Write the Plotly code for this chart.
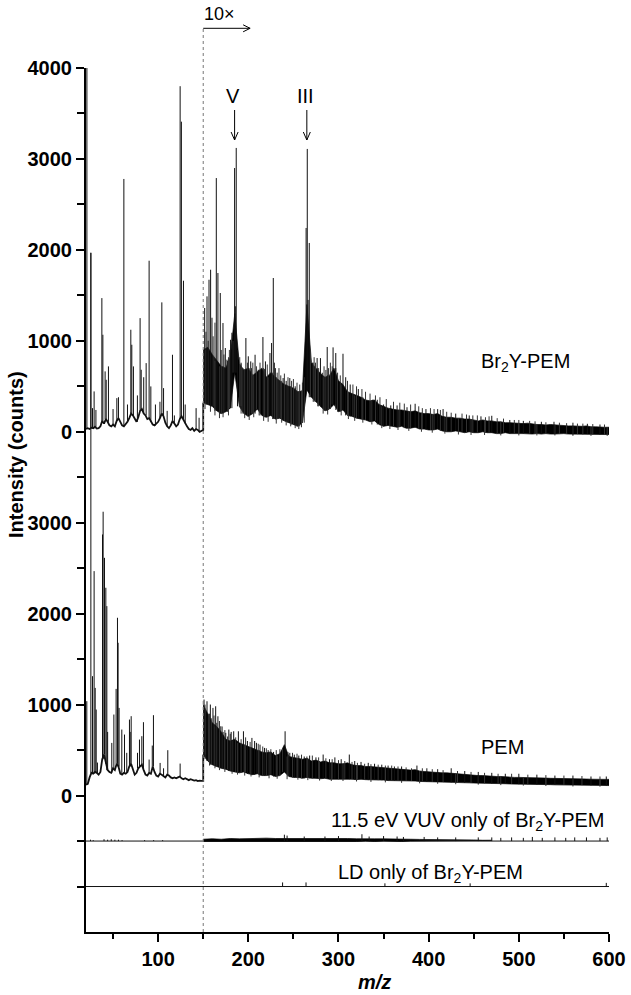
import numpy as np
import plotly.graph_objects as go

FONT = "Liberation Sans, Arial, Helvetica, sans-serif"

# ---------------- axis ----------------
XMIN, XMAX = 20, 600
YMIN, YMAX = -5500, 4000
x_major = [100, 200, 300, 400, 500, 600]
x_minor = [50, 150, 250, 350, 450, 550]
y_tickvals = [4000, 3000, 2000, 1000, 0, -1000, -2000, -3000, -4000]
y_ticktext = ["4000", "3000", "2000", "1000", "0", "3000", "2000", "1000", "0"]
y_minor = [3500, 2500, 1500, 500, -500, -1500, -2500, -3500, -4500, -5000]

# stacking offsets of the four spectra (counts)
off_br, off_pem, off_vuv, off_ld = 0, -4000, -4500, -5000

# ---------------- Br2Y-PEM ----------------
# m/z 20-150 (1x): baseline every 2 m/z
br_base_mz = list(range(20, 151, 2))
br_base_int = [30, 40, 30, 45, 40, 55, 35, 40, 60, 120,
               90, 140, 110, 70, 60, 80, 60, 120, 150, 110,
               70, 60, 80, 110, 150, 200, 180, 140, 110, 160,
               230, 250, 200, 180, 140, 150, 110, 80, 70, 90,
               110, 150, 200, 170, 100, 60, 40, 70, 120, 90,
               60, 80, 140, 170, 130, 90, 60, 30, 20, 40,
               10, 30, 20, 0, 10, 20]
br_pk_mz = [21.0, 25.4, 27.2, 29.0, 31.0, 37.6, 38.7, 41.2, 42.4, 44.9,
            50.0, 54.2, 56.0, 62.0, 66.0, 69.7, 70.8, 72.6, 77.0, 80.0,
            81.2, 84.0, 86.7, 90.0, 91.9, 97.0, 102.0, 104.1, 106.0, 110.0,
            115.9, 118.0, 124.4, 125.8, 128.1, 130.0, 142.1, 145.4]
br_pk_int = [4400, 1966, 260, 444, 240, 1470, 1067, 664, 572, 719,
             250, 370, 380, 2780, 300, 1122, 957, 719, 400, 1250,
             682, 600, 755, 1881, 499, 300, 330, 1423, 480, 230,
             847, 180, 3800, 3410, 1661, 300, 260, 154]
# m/z 150-600 (10x): noise envelope every 5 m/z
env_mz = list(range(150, 601, 5))
br_env_lo = [320, 300, 280, 230, 200, 220, 260, 650, 280, 200,
             170, 200, 250, 180, 160, 180, 140, 150, 120, 100,
             80, 60, 100, 460, 380, 330, 280, 230, 250, 300,
             220, 240, 180, 170, 150, 140, 130, 110, 120, 80,
             60, 70, 60, 50, 60, 40, 40, 50, 30, 30,
             20, 20, 30, 10, 0, 0, 10, 0, -10, 0,
             -10, -10, 0, -10, -10, -20, -20, -10, -20, -20,
             -20, -20, -20, -25, -20, -25, -20, -25, -25, -25,
             -20, -25, -30, -25, -30, -25, -30, -30, -30, -30,
             -30]
br_env_hi = [900, 930, 850, 780, 720, 700, 820, 1300, 750, 680,
             700, 620, 660, 700, 600, 650, 600, 560, 520, 500,
             480, 440, 450, 1400, 760, 700, 640, 600, 620, 700,
             560, 520, 440, 420, 400, 380, 350, 340, 350, 300,
             280, 260, 250, 240, 240, 230, 220, 230, 210, 200,
             200, 190, 200, 170, 160, 160, 150, 150, 140, 140,
             130, 120, 130, 120, 120, 110, 110, 100, 100, 95,
             90, 90, 95, 85, 80, 80, 75, 80, 75, 70,
             70, 65, 65, 60, 60, 65, 55, 55, 50, 50,
             50]
br_pk10_mz = [151.6, 154.2, 156.4, 158.2, 159.7, 164.5, 166.3, 168.9, 171.9, 174.5,
              176.3, 180.3, 181.8, 184.8, 185.6, 186.6, 188.0, 197.3, 200.0, 202.7,
              207.5, 211.0, 216.2, 219.0, 224.0, 225.8, 227.7, 230.0, 238.6, 242.0,
              246.0, 252.0, 264.1, 265.4, 266.3, 267.6, 271.0, 276.3, 280.0, 282.0,
              287.5, 294.0, 297.0, 305.0, 308.0, 313.0, 322.0, 338.0, 343.0, 350.0,
              358.0, 365.0, 376.0, 385.0, 397.0, 410.0, 416.0, 430.0, 445.0, 458.0,
              470.0, 490.0, 505.0, 525.0, 539.0, 560.0, 576.0, 590.0]
br_pk10_int = [1361, 1489, 1672, 1782, 1254, 2790, 1746, 1526, 1196, 921,
               793, 1012, 1089, 2900, 1380, 3121, 900, 1031, 830, 774,
               847, 682, 1042, 774, 866, 976, 1691, 700, 591, 560,
               591, 500, 2241, 3110, 1450, 2076, 760, 811, 810, 649,
               932, 928, 866, 858, 600, 520, 470, 352, 352, 300,
               290, 290, 270, 308, 250, 249, 250, 200, 180, 170,
               176, 130, 120, 110, 110, 100, 88, 80]
# smaller noise spikes above the 10x band
br_ns_mz = [153, 155.5, 161, 163, 170, 173, 177, 179, 183, 190.5,
            192, 194, 199, 203.5, 205, 209, 213, 218, 221, 229,
            232, 234, 236, 240, 244, 248, 250, 254, 257, 260,
            262, 269, 273, 274.5, 278, 284, 286, 289, 291, 293,
            299, 302, 310, 316, 320, 326, 330, 335, 341, 346,
            353, 361, 368, 373, 380, 389, 393, 402, 406, 413,
            420, 425, 437, 442, 449, 454, 463, 467, 476, 483,
            495, 500, 512, 518, 530, 545, 553, 565, 571, 582, 595]
br_ns_int = [1100, 1000, 1050, 1200, 900, 850, 780, 900, 1000, 820,
             760, 700, 760, 700, 760, 720, 760, 690, 740, 760,
             650, 700, 620, 640, 600, 560, 580, 540, 520, 540,
             600, 900, 820, 760, 700, 720, 680, 700, 760, 720,
             650, 620, 560, 520, 500, 470, 440, 420, 400, 380,
             360, 330, 320, 310, 300, 280, 260, 260, 250, 240,
             220, 210, 200, 190, 180, 180, 160, 170, 150, 145,
             130, 130, 120, 115, 105, 100, 95, 90, 90, 85, 80]
# downward noise excursions below the 10x band
br_dip_mz = [152, 158, 163, 168, 172, 178, 192, 196, 201, 206,
             212, 217, 222, 227, 231, 237, 242, 247, 252, 256,
             259, 272, 277, 283, 288, 297, 303, 311, 318, 327,
             337, 348, 357, 366, 378, 392, 404, 418, 433, 447,
             462, 480, 500, 520, 540, 560, 580, 598]
br_dip_int = [250, 220, 180, 150, 160, 180, 200, 150, 130, 160,
              180, 120, 110, 140, 90, 100, 70, 60, 40, 30,
              50, 330, 280, 200, 190, 240, 180, 140, 120, 100,
              80, 40, 30, 20, 10, 0, -10, -20, -30, -35,
              -35, -40, -40, -40, -40, -45, -45, -45]

# ---------------- PEM ----------------
pem_base_mz = list(range(20, 151, 2))
pem_base_int = [120, 130, 200, 250, 240, 260, 250, 230, 260, 400,
                450, 350, 280, 260, 250, 300, 280, 350, 320, 240,
                230, 250, 240, 260, 320, 350, 280, 230, 250, 300,
                320, 340, 280, 230, 220, 250, 240, 320, 260, 220,
                210, 240, 230, 210, 200, 230, 220, 200, 190, 200,
                190, 200, 210, 190, 180, 190, 175, 170, 180, 175,
                165, 170, 160, 165, 160, 160]
pem_pk_mz = [20.9, 25.4, 27.2, 29.0, 30.2, 31.3, 32.7, 38.3, 39.0, 40.5,
             42.0, 43.1, 44.0, 48.6, 50.9, 53.4, 54.9, 55.6, 56.7, 59.7,
             62.7, 65.2, 68.2, 69.0, 70.1, 77.1, 79.3, 81.9, 83.7, 90.0,
             93.5, 94.8, 102.2, 106.0, 110.7, 124.4]
pem_pk_int = [1038, 5970, 1313, 2468, 1184, 946, 363, 2871, 3121, 2614,
              2285, 2083, 700, 579, 891, 1173, 1955, 1680, 964, 726,
              671, 470, 836, 700, 873, 470, 616, 653, 807, 396,
              550, 884, 359, 300, 499, 352]
pem_env_lo = [450, 380, 340, 320, 300, 290, 270, 260, 250, 260,
              240, 230, 240, 220, 220, 230, 210, 220, 260, 210,
              200, 200, 190, 200, 190, 190, 185, 190, 180, 185,
              180, 185, 180, 180, 175, 180, 175, 170, 175, 170,
              170, 165, 165, 160, 165, 160, 160, 160, 155, 155,
              150, 150, 150, 148, 145, 145, 140, 140, 140, 140,
              138, 135, 135, 135, 132, 130, 130, 130, 128, 128,
              125, 125, 125, 122, 122, 120, 120, 120, 118, 118,
              118, 115, 115, 115, 115, 112, 112, 112, 110, 110,
              110]
pem_env_hi = [1000, 900, 800, 760, 700, 620, 600, 620, 580, 560,
              540, 520, 500, 480, 470, 480, 440, 460, 560, 430,
              420, 410, 400, 410, 380, 390, 370, 380, 360, 360,
              350, 350, 360, 340, 330, 330, 320, 320, 315, 310,
              310, 300, 300, 295, 290, 285, 280, 285, 270, 265,
              260, 255, 255, 250, 250, 245, 240, 235, 230, 225,
              225, 220, 220, 215, 215, 210, 210, 205, 205, 200,
              200, 200, 198, 195, 195, 195, 192, 190, 190, 190,
              188, 185, 185, 185, 182, 182, 180, 180, 180, 178,
              178]
pem_pk10_mz = [150.9, 154.2, 157.9, 160.8, 163.8, 166.3, 169.5, 172.0, 175.0, 178.4,
               181.0, 183.8, 189.0, 194.6, 199.0, 204.0, 207.0, 209.0, 213.0, 218.0,
               222.0, 228.0, 240.8, 246.0, 251.0, 256.0, 262.0, 268.0, 275.0, 283.0,
               290.0, 296.0, 303.0, 312.0, 318.0, 325.0, 333.0, 340.0, 348.0, 355.0,
               362.0, 370.0, 387.0, 398.0, 410.0, 425.0, 440.0, 455.0, 470.0, 485.0,
               500.0, 520.0, 540.0, 560.0, 580.0, 597.0]
pem_pk10_int = [1056, 1037, 1001, 964, 982, 872, 762, 700, 690, 726,
                700, 707, 707, 707, 600, 634, 600, 580, 560, 524,
                500, 480, 707, 470, 450, 440, 430, 440, 420, 451,
                400, 420, 400, 451, 380, 370, 360, 350, 340, 330,
                320, 320, 330, 300, 290, 300, 270, 260, 250, 240,
                240, 230, 220, 220, 210, 210]
pem_ns_mz = [152, 156, 159, 162, 165, 168, 171, 174, 177, 180,
             186, 192, 197, 202, 211, 216, 220, 225, 231, 235,
             238, 244, 249, 254, 259, 265, 271, 278, 286, 293,
             300, 307, 315, 321, 329, 336, 344, 352, 359, 366,
             375, 381, 393, 404, 416, 432, 447, 462, 477, 492,
             510, 530, 550, 570, 590]
pem_ns_int = [950, 900, 850, 880, 800, 820, 760, 720, 650, 680,
              640, 620, 640, 590, 570, 540, 520, 510, 500, 510,
              520, 480, 470, 460, 450, 430, 440, 420, 410, 400,
              390, 380, 370, 360, 350, 345, 340, 330, 330, 320,
              310, 300, 300, 290, 280, 270, 260, 250, 240, 240,
              230, 225, 220, 215, 210]
pem_dip_mz = [152, 157, 163, 168, 174, 182, 188, 196, 203, 212,
              223, 232, 243, 255, 266, 279, 292, 305, 320, 336,
              352, 370, 390, 410, 430, 455, 480, 505, 530, 560, 590]
pem_dip_int = [400, 330, 300, 280, 260, 240, 230, 220, 210, 200,
               190, 185, 180, 175, 170, 165, 160, 160, 155, 150,
               145, 140, 135, 130, 125, 120, 115, 110, 105, 100, 98]

# ---------------- 11.5 eV VUV only ----------------
vuv_line_mz = [20, 600]
vuv_line_int = [0, 0]
vuv_pk_mz = [25, 28, 40, 44, 48, 52, 56, 60, 85, 95, 105]
vuv_pk_int = [15, 10, 20, 15, 20, 15, 15, 10, 10, 10, 10]
vuv_env_mz = list(range(150, 471, 10))
vuv_env_lo = [-5, 0, -5, 0, -5, -5, 0, -5, -5, 0, -5, -5, 0, -5, -5, 0, -5,
              -5, 0, -5, 0, 0, -5, 0, 0, 0, 0, 0, 0, 0, 0, 0, 0]
vuv_env_hi = [20, 25, 20, 28, 24, 28, 24, 32, 28, 28, 32, 35, 28, 32, 28, 30, 28,
              25, 28, 24, 24, 20, 20, 20, 18, 18, 15, 15, 14, 12, 12, 8, 8]
vuv_pk10_mz = [240, 243, 262, 285, 300, 326, 334, 350, 365, 372, 395, 410, 430,
               455, 470, 480, 492, 505, 515, 526, 540, 552, 562, 575, 590, 598]
vuv_pk10_int = [70, 60, 50, 50, 55, 75, 50, 55, 50, 45, 45, 40, 40,
                40, 40, 35, 40, 35, 45, 35, 40, 35, 40, 40, 35, 40]

# ---------------- LD only ----------------
ld_line_mz = [20, 600]
ld_line_int = [0, 0]
ld_pk_mz = [238, 264, 351.5, 446, 597]
ld_pk_int = [45, 45, 35, 35, 40]


# ---------------- helpers ----------------
def nearest(grid_mz, grid_val, m):
    i = int(np.argmin(np.abs(np.asarray(grid_mz, dtype=float) - m)))
    return grid_val[i]


def sticks(mz, top, base, off):
    xs, ys = [], []
    for m, t, b in zip(mz, top, base):
        xs += [m, m, None]
        ys += [b + off, t + off, None]
    return xs, ys


def band(mz, lo, hi, off):
    x = list(mz) + list(mz)[::-1]
    y = [v + off for v in hi] + [v + off for v in lo][::-1]
    return x, y


fig = go.Figure()
INK = "#111111"


def add_line(x, y, w=1.0, color=INK):
    fig.add_trace(go.Scatter(x=x, y=y, mode="lines", line=dict(color=color, width=w),
                             hoverinfo="skip", showlegend=False))


def add_band(x, y):
    fig.add_trace(go.Scatter(x=x, y=y, mode="lines", fill="toself", fillcolor="#000000",
                             line=dict(color="#000000", width=0.7),
                             hoverinfo="skip", showlegend=False))


for (base_mz, base_int, pk_mz, pk_int, lo, hi, pk10_mz, pk10_int,
     ns_mz, ns_int, dip_mz, dip_int, off) in [
    (br_base_mz, br_base_int, br_pk_mz, br_pk_int, br_env_lo, br_env_hi,
     br_pk10_mz, br_pk10_int, br_ns_mz, br_ns_int, br_dip_mz, br_dip_int, off_br),
    (pem_base_mz, pem_base_int, pem_pk_mz, pem_pk_int, pem_env_lo, pem_env_hi,
     pem_pk10_mz, pem_pk10_int, pem_ns_mz, pem_ns_int, pem_dip_mz, pem_dip_int, off_pem),
]:
    # 1x region baseline, continuing into the 10x jump at m/z 150
    add_line(list(base_mz) + [env_mz[0]], [v + off for v in base_int] + [lo[0] + off], 1.8)
    bases = [nearest(base_mz, base_int, m) for m in pk_mz]
    sx, sy = sticks(pk_mz, pk_int, bases, off)
    add_line(sx, sy, 1.0)
    # 10x region noise band + noise spikes/dips + peaks
    bx, by = band(env_mz, lo, hi, off)
    add_band(bx, by)
    bases = [nearest(env_mz, lo, m) for m in ns_mz]
    sx, sy = sticks(ns_mz, ns_int, bases, off)
    add_line(sx, sy, 1.0, "#333333")
    bases = [nearest(env_mz, hi, m) for m in dip_mz]
    sx, sy = sticks(dip_mz, dip_int, bases, off)
    add_line(sx, sy, 1.0, "#333333")
    bases = [nearest(env_mz, lo, m) for m in pk10_mz]
    sx, sy = sticks(pk10_mz, pk10_int, bases, off)
    add_line(sx, sy, 1.0)

# VUV only
add_line(vuv_line_mz, [v + off_vuv for v in vuv_line_int], 1.0)
sx, sy = sticks(vuv_pk_mz, vuv_pk_int, [0] * len(vuv_pk_mz), off_vuv)
add_line(sx, sy, 1.0)
bx, by = band(vuv_env_mz, vuv_env_lo, vuv_env_hi, off_vuv)
add_band(bx, by)
sx, sy = sticks(vuv_pk10_mz, vuv_pk10_int, [0] * len(vuv_pk10_mz), off_vuv)
add_line(sx, sy, 1.0)

# LD only
add_line(ld_line_mz, [v + off_ld for v in ld_line_int], 1.0)
sx, sy = sticks(ld_pk_mz, ld_pk_int, [0] * len(ld_pk_mz), off_ld)
add_line(sx, sy, 1.0)


# ---------------- decorations ----------------
def px(m):
    return (m - XMIN) / (XMAX - XMIN)


PH = 864.0  # plot height in px
PW = 523.0  # plot width in px
PLOT_L, PLOT_B = 86.0, 932.0  # plot-area left / bottom in page pixels


def pxx(x):
    return (x - PLOT_L) / PW


def pyy(y):
    return (PLOT_B - y) / PH


shapes = []
# dotted separator at m/z 150
shapes.append(dict(type="line", xref="paper", yref="paper", x0=px(150), x1=px(150),
                   y0=0, y1=pyy(28), line=dict(color="#777777", width=1, dash="dot")))
# 10x arrow
ya = pyy(28.3)
tip = px(202)
shapes.append(dict(type="line", xref="paper", yref="paper", x0=px(150), x1=tip, y0=ya, y1=ya,
                   line=dict(color="black", width=1)))
for s in (1, -1):
    shapes.append(dict(type="line", xref="paper", yref="paper", x0=tip - 7 / PW, x1=tip,
                       y0=ya + s * 3.5 / PH, y1=ya, line=dict(color="black", width=1)))
# V and III arrows
for m in (184.8, 264.9):
    xa = px(m)
    y_top = pyy(110)
    y_tip = pyy(140)
    shapes.append(dict(type="line", xref="paper", yref="paper", x0=xa, x1=xa, y0=y_top, y1=y_tip,
                       line=dict(color="black", width=1)))
    for s in (1, -1):
        shapes.append(dict(type="line", xref="paper", yref="paper", x0=xa + s * 3.5 / PW, x1=xa,
                           y0=y_tip + 8 / PH, y1=y_tip, line=dict(color="black", width=1)))

ann_font = dict(family=FONT, size=20, color="black")


def ann(text, x, y, xanchor="center", font=ann_font, **kw):
    return dict(text=text, xref="paper", yref="paper", x=pxx(x), y=pyy(y),
                xanchor=xanchor, yanchor="middle", showarrow=False, font=font, **kw)


annotations = [
    ann("10×", 219.5, 14, font=dict(family=FONT, size=18, color="black")),
    ann("V", 232.5, 96),
    ann("III", 305.8, 96),
    ann("Br<sub>2</sub>Y-PEM", 479, 362, xanchor="left"),
    ann("PEM", 479, 747, xanchor="left"),
    ann("11.5 eV VUV only of Br<sub>2</sub>Y-PEM", 607, 821, xanchor="right"),
    ann("LD only of Br<sub>2</sub>Y-PEM", 335.5, 873, xanchor="left"),
    ann("Intensity (counts)", 16, 455, textangle=-90,
        font=dict(family=FONT, size=20, color="black", weight="bold")),
    ann("<i>m/z</i>", 374, 982, font=dict(family=FONT, size=20, color="black", weight="bold")),
]

tick_font = dict(family=FONT, size=20, color="black", weight="bold")
fig.update_layout(
    width=631, height=995,
    margin=dict(l=86, r=22, t=68, b=63),
    paper_bgcolor="white", plot_bgcolor="white",
    showlegend=False,
    hovermode=False,
    shapes=shapes,
    annotations=annotations,
    xaxis=dict(range=[XMIN, XMAX], showgrid=False, zeroline=False, showline=True,
               linecolor="black", linewidth=2, ticks="outside", ticklen=8, tickwidth=1.5,
               tickcolor="black", tickvals=x_major, ticktext=[str(v) for v in x_major],
               tickfont=tick_font, automargin=False,
               minor=dict(tickvals=x_minor, ticks="outside", ticklen=5, tickwidth=1.5,
                          tickcolor="black", showgrid=False)),
    yaxis=dict(range=[YMIN, YMAX], showgrid=False, zeroline=False, showline=True,
               linecolor="black", linewidth=2, ticks="outside", ticklen=8, tickwidth=1.5,
               tickcolor="black", tickvals=y_tickvals, ticktext=y_ticktext,
               tickfont=tick_font, automargin=False,
               minor=dict(tickvals=y_minor, ticks="outside", ticklen=7, tickwidth=1.5,
                          tickcolor="black", showgrid=False)),
)

# remove the browser's default 8 px page margin so the figure sits at the page origin
fig.write_html("out.html", config={"displayModeBar": False},
               post_script="document.body.style.margin='0';")
